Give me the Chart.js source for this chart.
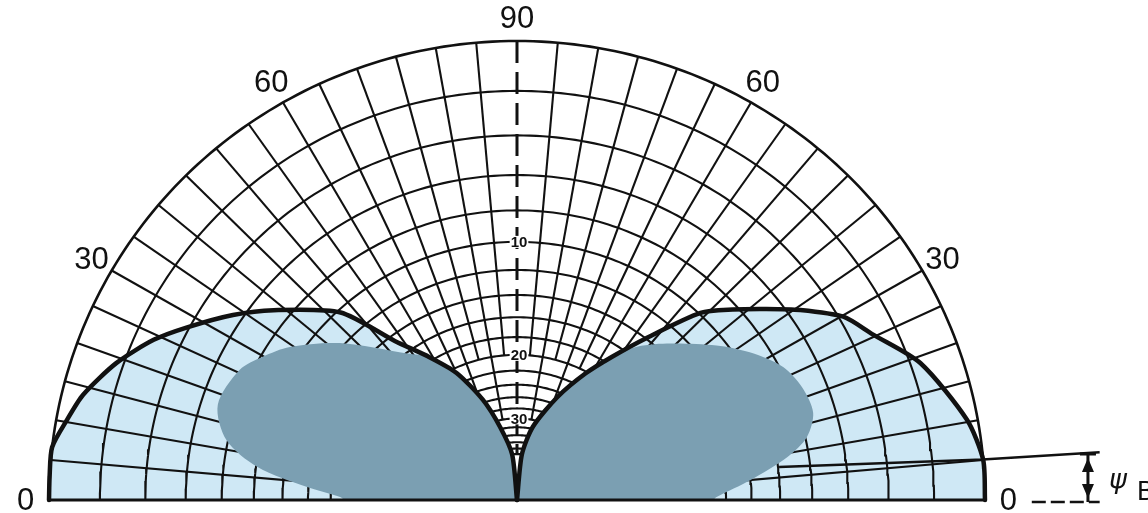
<!DOCTYPE html>
<html>
<head>
<meta charset="utf-8">
<script src="https://cdn.jsdelivr.net/npm/chart.js@4/dist/chart.umd.min.js"></script>
<style>
  html, body { margin: 0; padding: 0; background: #ffffff; }
  canvas { display: block; }
</style>
</head>
<body>
<canvas id="pattern" width="1148" height="513"></canvas>
<script>
// Vertical-plane radiation pattern on a half polar grid.
// Radius on the grid is 10^(-dB/40): 0 dB is the outer circle, a null sits at the centre.

// ---- grid ----
const gridLevelsDb = [0, 2, 4, 6, 8, 10, 12, 14, 16, 18, 20, 22, 24, 26, 28, 30, 32, 34, 36, 38, 40];
const fineSpokesDeg = [0, 5, 10, 15, 20, 25, 30, 35, 40, 45, 50, 55, 60, 65, 70, 75, 80, 85,
                       95, 100, 105, 110, 115, 120, 125, 130, 135, 140, 145, 150, 155, 160, 165, 170, 175, 180];
const coarseSpokesDeg = [0, 10, 20, 30, 40, 50, 60, 70, 80, 100, 110, 120, 130, 140, 150, 160, 170, 180];
const fineSpokeInnerDb = 20;     // 5 degree spokes stop here
const coarseSpokeInnerDb = 30;   // 10 degree spokes stop here
const angleTickDeg = [0, 30, 60, 90, 120, 150, 180];
const angleTickLabels = ['0', '30', '60', '90', '60', '30', '0'];
const dbTickValues = [10, 20, 30];
const dbTickLabels = ['10', '20', '30'];

// ---- outer pattern (light fill, heavy outline); Infinity = null at the centre ----
const outerAnglesDeg = [0, 5, 10.3, 19.1, 25.4, 29.8, 34.4, 38, 42, 46.1, 52, 57, 62, 69, 78, 84, 90,
                        96, 102.8, 108.5, 115, 121, 127, 132.7, 141.5, 146.4, 151.9, 155.8, 160.8,
                        166.1, 169.7, 173.4, 177.1, 180];
const outerDb = [0, 0, 0.4, 1.6, 3.0, 3.8, 5.4, 6.8, 8.3, 9.9, 14.0, 17.2, 20.2, 24.8, 31.5, 40, Infinity,
                 40, 31.5, 25.5, 20.6, 17.6, 14.5, 10.2, 7.1, 5.5, 3.9, 2.8, 1.7,
                 0.8, 0.4, 0.0, 0, 0];

// ---- inner lobes (dark fill) ----
const rightLobeAnglesDeg = [90, 84, 78, 69, 62, 57, 53.2, 46.8, 38.3, 32.9, 27, 21.9, 16.7, 12.5, 9.2, 5, 0.9, 0];
const rightLobeDb = [Infinity, 40, 31.5, 24.8, 20.6, 17.6, 15.3, 13.2, 10.6, 9.1, 7.8, 7.3, 7.2, 7.9, 9.3, 12.0, 14.8, 15.1];
const leftLobeAnglesDeg = [90, 96, 102.8, 108.5, 115, 121, 126.3, 137.9, 145.5, 150.2, 154.4, 162, 168.1, 172.6, 176.4, 179, 180];
const leftLobeDb = [Infinity, 40, 31.5, 25.5, 20.6, 17.6, 16.1, 11.7, 9.2, 8.1, 7.3, 6.9, 7.9, 10.1, 13.9, 16.9, 17.3];

// ---- psi_B marker (plot data units) ----
const psiLine = [[0.56, 0.072], [0.995, 0.088], [1.245, 0.104]];
const psiArrowX = 1.22;
const psiArrowTop = 0.100;
const psiBaseLine = [[1.10, 0], [1.245, 0]];

const LIGHT = '#cfe8f5';
const DARK = '#7b9fb2';
const INK = '#111111';

function polar(angleDeg, db) {
  const r = Math.pow(10, -db / 40);
  const a = angleDeg * Math.PI / 180;
  return { x: r * Math.cos(a), y: r * Math.sin(a) };
}
function curve(angles, dbs) {
  return angles.map((a, i) => polar(a, dbs[i]));
}
function arc(db) {
  const pts = [];
  for (let a = 0; a <= 180; a += 1) pts.push(polar(a, db));
  return pts;
}

// split the outer pattern at the central null so each half can be smoothed on its own
const nullIdx = outerAnglesDeg.indexOf(90);
const outerRight = curve(outerAnglesDeg.slice(0, nullIdx + 1), outerDb.slice(0, nullIdx + 1)).reverse();
const outerLeft = curve(outerAnglesDeg.slice(nullIdx), outerDb.slice(nullIdx));

const base = {
  showLine: true, pointRadius: 0, pointHoverRadius: 0, tension: 0,
  fill: false, clip: false
};

const datasets = [];

// heavy outline of the outer pattern (drawn on top)
[outerRight, outerLeft].forEach(half => {
  datasets.push(Object.assign({}, base, {
    data: half, borderColor: INK, borderWidth: 4.5, tension: 0.25,
    borderJoinStyle: 'round', borderCapStyle: 'round', order: 0
  }));
});
// base line
datasets.push(Object.assign({}, base, {
  data: [polar(180, 0), polar(0, 0)], borderColor: INK, borderWidth: 3, order: 1
}));
// dark lobes
[[rightLobeAnglesDeg, rightLobeDb], [leftLobeAnglesDeg, leftLobeDb]].forEach(([a, d]) => {
  datasets.push(Object.assign({}, base, {
    data: curve(a, d), borderWidth: 0, borderColor: DARK, tension: 0.3,
    backgroundColor: DARK, fill: 'shape', order: 2
  }));
});
// grid circles
gridLevelsDb.forEach(db => {
  datasets.push(Object.assign({}, base, {
    data: arc(db), borderColor: INK, borderWidth: db === 0 ? 2.6 : 2.1, order: 3
  }));
});
// grid spokes
fineSpokesDeg.forEach(a => {
  const inner = coarseSpokesDeg.includes(a) ? coarseSpokeInnerDb : fineSpokeInnerDb;
  datasets.push(Object.assign({}, base, {
    data: [polar(a, inner), polar(a, 0)],
    borderColor: INK, borderWidth: 2.1, order: 3
  }));
});
// dashed 90 degree spoke
datasets.push(Object.assign({}, base, {
  data: [polar(90, 0), polar(90, gridLevelsDb[gridLevelsDb.length - 1])],
  borderColor: INK, borderWidth: 3, borderDash: [22, 9], order: 3
}));
// light outer pattern fill (bottom)
[outerRight, outerLeft].forEach(half => {
  datasets.push(Object.assign({}, base, {
    data: half, borderWidth: 0, borderColor: LIGHT, tension: 0.25,
    backgroundColor: LIGHT, fill: 'shape', order: 4
  }));
});

const labelsPlugin = {
  id: 'polarLabels',
  afterDatasetsDraw(chart) {
    const { ctx, scales: { x, y } } = chart;
    const px = v => x.getPixelForValue(v);
    const py = v => y.getPixelForValue(v);
    ctx.save();
    ctx.fillStyle = INK;
    ctx.textAlign = 'center';
    ctx.textBaseline = 'middle';
    ctx.font = '31px "Liberation Sans", Arial, sans-serif';
    angleTickDeg.forEach((a, i) => {
      const p = polar(a, 0);
      ctx.fillText(angleTickLabels[i], px(p.x * 1.05), py(p.y * 1.05) + 1);
    });

    // dB labels along the vertical spoke, on a small white patch
    ctx.font = 'bold 15px "Liberation Sans", Arial, sans-serif';
    dbTickValues.forEach((db, i) => {
      const p = polar(90, db);
      const cx = px(p.x) + 2, cy = py(p.y);
      const w = ctx.measureText(dbTickLabels[i]).width;
      ctx.fillStyle = '#ffffff';
      ctx.fillRect(cx - w / 2 - 1, cy - 6, w + 2, 12);
      ctx.fillStyle = INK;
      ctx.fillText(dbTickLabels[i], cx, cy + 1);
    });

    // psi_B marker
    ctx.strokeStyle = INK;
    ctx.lineWidth = 2.5;
    ctx.beginPath();
    psiLine.forEach((p, i) => i ? ctx.lineTo(px(p[0]), py(p[1])) : ctx.moveTo(px(p[0]), py(p[1])));
    ctx.stroke();
    ctx.setLineDash([14, 5]);
    ctx.beginPath();
    ctx.moveTo(px(psiBaseLine[0][0]), py(psiBaseLine[0][1]) + 2);
    ctx.lineTo(px(psiBaseLine[1][0]), py(psiBaseLine[1][1]) + 2);
    ctx.stroke();
    ctx.setLineDash([]);
    const ax = px(psiArrowX), aTop = py(psiArrowTop), aBot = py(0) + 2;
    ctx.lineWidth = 3;
    ctx.beginPath();
    ctx.moveTo(ax, aTop); ctx.lineTo(ax, aBot);
    ctx.moveTo(ax - 8, aTop); ctx.lineTo(ax + 8, aTop);
    ctx.stroke();
    ctx.beginPath();
    ctx.moveTo(ax, aTop + 4); ctx.lineTo(ax - 6, aTop + 18); ctx.lineTo(ax + 6, aTop + 18); ctx.closePath();
    ctx.moveTo(ax, aBot - 4); ctx.lineTo(ax - 6, aBot - 18); ctx.lineTo(ax + 6, aBot - 18); ctx.closePath();
    ctx.fill();
    ctx.textAlign = 'left';
    ctx.font = 'italic 27px "DejaVu Sans", sans-serif';
    ctx.fillText('\u03C8', px(1.265), py(0.042));
    ctx.font = '27px "Liberation Sans", Arial, sans-serif';
    ctx.fillText('B', px(1.325), py(0.017));
    ctx.restore();
  }
};

new Chart(document.getElementById('pattern'), {
  type: 'line',
  data: { datasets },
  options: {
    responsive: false,
    animation: false,
    events: [],
    layout: { padding: 0 },
    plugins: { legend: { display: false }, tooltip: { enabled: false } },
    scales: {
      x: { type: 'linear', min: -1.1047, max: 1.3483, display: false },
      y: { type: 'linear', min: -0.0283, max: 1.0893, display: false }
    }
  },
  plugins: [labelsPlugin]
});
</script>
</body>
</html>
